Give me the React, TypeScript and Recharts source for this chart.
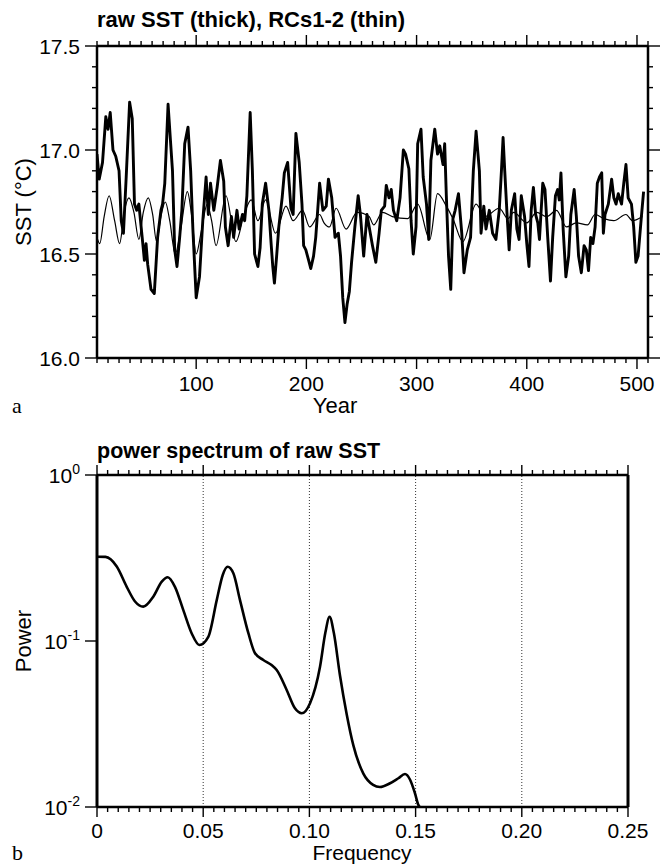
import { LineChart, Line, XAxis, YAxis, ReferenceLine } from 'recharts'

const FONT = '"Liberation Sans", Arial, Helvetica, sans-serif'
const SERIF = '"Liberation Serif", "Times New Roman", serif'

// panel a: raw SST (thick line)
const rawYears = [
  10, 12, 15, 18, 20, 22, 24.5, 27, 30, 32, 34, 36.5, 39.6, 42, 44, 46, 48, 51, 53, 54.5,
  56, 59, 62, 65, 68, 69.5, 71.5, 74.5, 76.6, 78.5, 80.5, 82.6, 85, 87, 89.6, 92.6, 95, 97, 100, 103,
  106, 109, 111, 113, 116, 119, 122, 125, 126.5, 129, 132, 134, 137, 139, 142, 144, 146, 149, 151, 153,
  156, 158, 160, 163, 166, 168, 169.5, 171, 173, 175, 178, 180, 183, 186, 188, 190.5, 193.5, 196, 197.5, 199.5,
  202, 204, 206.5, 208.5, 212, 215, 218, 220, 223, 226, 229, 231, 233, 235, 237, 239, 241, 244, 247, 249,
  252, 255, 257, 260, 263, 266, 268, 271, 272.5, 275, 277, 279, 282, 285, 288, 290, 293, 295, 297, 299.5,
  301, 304, 306, 309, 311, 313, 316.5, 319, 321, 324, 325.5, 327, 329, 331, 333, 335, 338, 341, 343, 346,
  349, 351.5, 354, 357, 358.5, 361, 363, 366, 369, 372, 375, 377, 378.5, 380, 382, 384, 386, 389, 391, 393,
  395, 398, 400, 402, 404, 406, 408, 410, 411.5, 414.5, 416.5, 419, 421.5, 423.5, 426, 428, 429.5, 431, 433, 435.5,
  438, 440, 443, 445, 447, 449.5, 452, 454, 456, 458, 460, 462, 464, 466, 468, 469.5, 471, 474, 477, 479,
  481, 483, 486, 488, 490, 492, 495, 497, 499, 501, 504, 506,
]
const rawValues = [
  16.98, 16.86, 16.94, 17.16, 17.1, 17.18, 17.0, 16.97, 16.9, 16.66, 16.6, 16.87, 17.23, 17.15, 16.74, 16.71, 16.74, 16.58, 16.47, 16.55,
  16.45, 16.33, 16.31, 16.58, 16.71, 16.74, 16.84, 17.22, 17.05, 16.9, 16.52, 16.44, 16.58, 16.71, 17.03, 17.11, 16.9, 16.62, 16.29, 16.39,
  16.66, 16.87, 16.69, 16.84, 16.71, 16.82, 16.95, 16.85, 16.63, 16.54, 16.68, 16.58, 16.71, 16.62, 16.69, 16.66, 16.78, 17.18, 16.9, 16.5,
  16.44, 16.53, 16.74, 16.84, 16.71, 16.55, 16.44, 16.36, 16.49, 16.63, 16.77, 16.89, 16.94, 16.72, 16.69, 17.08, 16.94, 16.74, 16.54, 16.52,
  16.47, 16.43, 16.49, 16.58, 16.84, 16.71, 16.73, 16.86, 16.77, 16.58, 16.6, 16.49, 16.29, 16.17, 16.26, 16.32, 16.46, 16.63, 16.78, 16.69,
  16.49, 16.69, 16.63, 16.54, 16.46, 16.6, 16.71, 16.73, 16.83, 16.77, 16.81, 16.71, 16.66, 16.77, 17.0, 16.98, 16.91, 16.66, 16.5, 16.63,
  17.03, 17.1, 16.87, 16.74, 16.57, 16.95, 17.1, 16.98, 17.02, 16.93, 17.03, 16.78, 16.49, 16.33, 16.67, 16.71, 16.79, 16.6, 16.41, 16.52,
  16.58, 16.9, 17.09, 16.9, 16.6, 16.73, 16.62, 16.71, 16.6, 16.57, 16.71, 16.9, 17.06, 16.9, 16.7, 16.52, 16.71, 16.79, 16.62, 16.57,
  16.78, 16.68, 16.55, 16.44, 16.71, 16.82, 16.69, 16.65, 16.57, 16.84, 16.81, 16.58, 16.37, 16.58, 16.78, 16.81, 16.76, 16.89, 16.62, 16.39,
  16.49, 16.69, 16.81, 16.68, 16.49, 16.41, 16.54, 16.52, 16.42, 16.58, 16.55, 16.63, 16.84, 16.87, 16.89, 16.6, 16.69, 16.74, 16.86, 16.77,
  16.74, 16.79, 16.74, 16.84, 16.93, 16.77, 16.74, 16.63, 16.46, 16.49, 16.68, 16.8,
]

// reconstructed components RC1-2 (thin line)
const rcYears = [
  10, 12.5, 16.5, 21, 26, 30.5, 35, 39, 43.5, 48, 52, 56.5, 60.5, 64, 68, 72, 76, 81, 86, 92,
  96, 100, 105, 110, 114, 118, 127, 136, 144, 150, 156, 163, 172, 181.5, 188, 196.5, 203, 212, 216, 221,
  227, 236, 246, 257, 261, 269, 278, 292, 301, 312, 319, 327, 333, 342, 354, 362, 375, 383, 388, 400,
  409, 418, 427, 436, 445, 455, 462, 470, 479, 490, 496, 505,
]
const rcValues = [
  16.58, 16.55, 16.68, 16.78, 16.66, 16.55, 16.71, 16.77, 16.7, 16.57, 16.7, 16.77, 16.69, 16.56, 16.68, 16.75, 16.66, 16.5, 16.62, 16.8,
  16.68, 16.5, 16.62, 16.74, 16.66, 16.54, 16.78, 16.56, 16.7, 16.76, 16.66, 16.76, 16.6, 16.73, 16.66, 16.71, 16.63, 16.69, 16.65, 16.63,
  16.72, 16.62, 16.7, 16.68, 16.64, 16.7, 16.68, 16.67, 16.74, 16.57, 16.79, 16.73, 16.67, 16.56, 16.74, 16.68, 16.72, 16.67, 16.7, 16.65,
  16.7, 16.68, 16.71, 16.63, 16.65, 16.64, 16.69, 16.67, 16.66, 16.69, 16.66, 16.68,
]

// panel b: power spectrum of raw SST
const freqs = [
  0, 0.004, 0.0093, 0.014, 0.0179, 0.0218, 0.0265, 0.0305, 0.0333, 0.0367, 0.0406, 0.0446, 0.0482, 0.0524, 0.0564, 0.0592,
  0.0615, 0.0642, 0.0673, 0.0713, 0.0744, 0.0783, 0.0822, 0.0846, 0.0893, 0.0932, 0.0964, 0.1003, 0.105, 0.1075, 0.1095,
  0.1115, 0.1144, 0.1176, 0.1207, 0.1254, 0.13, 0.1332, 0.138, 0.1419, 0.145, 0.1474, 0.1497, 0.1513, 0.152,
]
const powers = [
  0.322, 0.321, 0.281, 0.212, 0.173, 0.161, 0.185, 0.228, 0.242, 0.212, 0.154, 0.111, 0.0946, 0.106, 0.177, 0.25,
  0.28, 0.256, 0.177, 0.111, 0.0843, 0.0769, 0.0716, 0.0668, 0.0507, 0.0393, 0.0367, 0.0422, 0.07, 0.112, 0.14,
  0.112, 0.062, 0.036, 0.0235, 0.0159, 0.0136, 0.0132, 0.0139, 0.0149, 0.0158, 0.0146, 0.0121, 0.0103, 0.01,
]

const yearTicks = [
  10, 20, 30, 40, 50, 60, 70, 80, 90, 100, 110, 120, 130, 140, 150, 160, 170, 180, 190, 200,
  210, 220, 230, 240, 250, 260, 270, 280, 290, 300, 310, 320, 330, 340, 350, 360, 370, 380, 390, 400,
  410, 420, 430, 440, 450, 460, 470, 480, 490, 500, 510,
]
const sstTicks = [16.0, 16.1, 16.2, 16.3, 16.4, 16.5, 16.6, 16.7, 16.8, 16.9, 17.0, 17.1, 17.2, 17.3, 17.4, 17.5]
const sstLabels = ['16.0', '16.5', '17.0', '17.5']
const freqTicks = [
  0, 0.005, 0.01, 0.015, 0.02, 0.025, 0.03, 0.035, 0.04, 0.045, 0.05, 0.055, 0.06, 0.065, 0.07, 0.075, 0.08,
  0.085, 0.09, 0.095, 0.1, 0.105, 0.11, 0.115, 0.12, 0.125, 0.13, 0.135, 0.14, 0.145, 0.15, 0.155, 0.16,
  0.165, 0.17, 0.175, 0.18, 0.185, 0.19, 0.195, 0.2, 0.205, 0.21, 0.215, 0.22, 0.225, 0.23, 0.235, 0.24, 0.245, 0.25,
]
const freqLabels = ['0', '0.05', '0.10', '0.15', '0.20', '0.25']
const gridFreqs = [0.05, 0.1, 0.15, 0.2]
const powerTicks = [0.01, 0.1, 1]
const powerExps = ['-2', '-1', '0']

const rawSst = rawYears.map((year, i) => ({ year, sst: rawValues[i] }))
const rcSst = rcYears.map((year, i) => ({ year, sst: rcValues[i] }))
const spectrum = freqs.map((f, i) => ({ f, p: powers[i] }))

const AXIS = { stroke: '#000', strokeWidth: 2.5 }

const near = (a: number, b: number) => Math.abs(a - b) < 1e-6

const yearTick = (dir: number, showLabel: boolean) => (p: any) => {
  const v = p.payload.value
  const major = v % 100 === 0
  const len = major ? 11 : 5
  return (
    <g>
      <line x1={p.x} y1={p.y} x2={p.x} y2={p.y + dir * len} stroke="#000" strokeWidth={1.4} />
      {showLabel && major && (
        <text x={p.x} y={p.y + 33} textAnchor="middle" fontSize={21} fontFamily={FONT} fill="#000">
          {v}
        </text>
      )}
    </g>
  )
}

const sstTick = (dir: number, showLabel: boolean) => (p: any) => {
  const v = p.payload.value
  const idx = sstLabels.findIndex((s) => near(Number(s), v))
  const major = idx >= 0
  const len = major ? 12 : 5
  return (
    <g>
      <line x1={p.x} y1={p.y} x2={p.x + dir * len} y2={p.y} stroke="#000" strokeWidth={1.4} />
      {showLabel && major && (
        <text x={p.x - 17} y={p.y + 7.5} textAnchor="end" fontSize={21} fontFamily={FONT} fill="#000">
          {sstLabels[idx]}
        </text>
      )}
    </g>
  )
}

const freqTick = (dir: number, showLabel: boolean) => (p: any) => {
  const v = p.payload.value
  const idx = Math.round(v / 0.05)
  const major = near(v / 0.05, idx)
  const len = major ? 10 : 5
  return (
    <g>
      <line x1={p.x} y1={p.y} x2={p.x} y2={p.y + dir * len} stroke="#000" strokeWidth={1.4} />
      {showLabel && major && (
        <text x={p.x} y={p.y + 31} textAnchor="middle" fontSize={21} fontFamily={FONT} fill="#000">
          {freqLabels[idx]}
        </text>
      )}
    </g>
  )
}

const powerTick = (p: any) => {
  const idx = powerTicks.findIndex((t) => near(t, p.payload.value))
  return (
    <g>
      <line x1={p.x} y1={p.y} x2={p.x - 12} y2={p.y} stroke="#000" strokeWidth={1.4} />
      <text x={p.x - 17} y={p.y + 7.5} textAnchor="end" fontSize={21} fontFamily={FONT} fill="#000">
        <tspan>10</tspan>
        <tspan dy={-9} fontSize={14}>{powerExps[idx]}</tspan>
      </text>
    </g>
  )
}

function SstPanel() {
  return (
    <LineChart width={660} height={400} margin={{ top: 0, right: 0, bottom: 0, left: 0 }}>
      <XAxis
        xAxisId="b"
        dataKey="year"
        type="number"
        domain={[10, 510]}
        allowDataOverflow
        ticks={yearTicks}
        interval={0}
        tickSize={0}
        tickMargin={0}
        tickLine={false}
        axisLine={AXIS}
        tick={yearTick(1, true)}
        height={42}
      />
      <XAxis
        xAxisId="t"
        orientation="top"
        dataKey="year"
        type="number"
        domain={[10, 510]}
        allowDataOverflow
        ticks={yearTicks}
        interval={0}
        tickSize={0}
        tickMargin={0}
        tickLine={false}
        axisLine={AXIS}
        tick={yearTick(-1, false)}
        height={46}
      />
      <YAxis
        yAxisId="l"
        type="number"
        domain={[16, 17.5]}
        allowDataOverflow
        ticks={sstTicks}
        interval={0}
        tickSize={0}
        tickMargin={0}
        tickLine={false}
        axisLine={AXIS}
        tick={sstTick(-1, true)}
        width={97}
      />
      <YAxis
        yAxisId="r"
        orientation="right"
        type="number"
        domain={[16, 17.5]}
        allowDataOverflow
        ticks={sstTicks}
        interval={0}
        tickSize={0}
        tickMargin={0}
        tickLine={false}
        axisLine={AXIS}
        tick={sstTick(1, false)}
        width={12}
      />
      <Line
        xAxisId="b"
        yAxisId="l"
        data={rcSst}
        dataKey="sst"
        type="monotone"
        stroke="#000"
        strokeWidth={1.2}
        dot={false}
        isAnimationActive={false}
      />
      <Line
        xAxisId="b"
        yAxisId="l"
        data={rawSst}
        dataKey="sst"
        type="linear"
        stroke="#000"
        strokeWidth={2.9}
        strokeLinejoin="round"
        dot={false}
        isAnimationActive={false}
      />
    </LineChart>
  )
}

function SpectrumPanel() {
  return (
    <LineChart width={660} height={435} data={spectrum} margin={{ top: 0, right: 0, bottom: 0, left: 0 }}>
      <XAxis
        xAxisId="b"
        dataKey="f"
        type="number"
        domain={[0, 0.25]}
        allowDataOverflow
        ticks={freqTicks}
        interval={0}
        tickSize={0}
        tickMargin={0}
        tickLine={false}
        axisLine={AXIS}
        tick={freqTick(1, true)}
        height={58}
      />
      <XAxis
        xAxisId="t"
        orientation="top"
        dataKey="f"
        type="number"
        domain={[0, 0.25]}
        allowDataOverflow
        ticks={freqTicks}
        interval={0}
        tickSize={0}
        tickMargin={0}
        tickLine={false}
        axisLine={AXIS}
        tick={freqTick(-1, false)}
        height={45}
      />
      <YAxis
        yAxisId="l"
        scale="log"
        type="number"
        domain={[0.01, 1]}
        allowDataOverflow
        ticks={powerTicks}
        interval={0}
        tickSize={0}
        tickMargin={0}
        tickLine={false}
        axisLine={{ stroke: '#000', strokeWidth: 3 }}
        tick={powerTick}
        width={97}
      />
      <YAxis
        yAxisId="r"
        orientation="right"
        scale="log"
        type="number"
        domain={[0.01, 1]}
        allowDataOverflow
        tick={false}
        tickLine={false}
        axisLine={{ stroke: '#000', strokeWidth: 3 }}
        width={32}
      />
      {gridFreqs.map((g) => (
        <ReferenceLine
          key={g}
          xAxisId="b"
          yAxisId="l"
          x={g}
          stroke="#333"
          strokeWidth={1}
          strokeDasharray="1 2"
        />
      ))}
      <Line
        xAxisId="b"
        yAxisId="l"
        dataKey="p"
        type="monotone"
        stroke="#000"
        strokeWidth={2.6}
        dot={false}
        isAnimationActive={false}
      />
    </LineChart>
  )
}

export default function App() {
  return (
    <div style={{ position: 'absolute', left: 0, top: 0, width: 660, height: 865, background: '#fff' }}>
      <div style={{ position: 'absolute', left: 0, top: 0 }}>
        <SstPanel />
      </div>
      <div style={{ position: 'absolute', left: 0, top: 430 }}>
        <SpectrumPanel />
      </div>
      <svg
        width={660}
        height={865}
        style={{ position: 'absolute', left: 0, top: 0, pointerEvents: 'none' }}
        fontFamily={FONT}
      >
        <text x={97} y={27} fontSize={22} fontWeight="bold">
          raw SST (thick), RCs1-2 (thin)
        </text>
        <text x={31} y={202} fontSize={22} textAnchor="middle" transform="rotate(-90 31 202)">
          SST (°C)
        </text>
        <text x={335} y={413} fontSize={22} textAnchor="middle">
          Year
        </text>
        <text x={12} y={413} fontSize={22} fontFamily={SERIF}>
          a
        </text>
        <text x={97} y={458} fontSize={21.5} fontWeight="bold">
          power spectrum of raw SST
        </text>
        <text x={31} y={641} fontSize={22} textAnchor="middle" transform="rotate(-90 31 641)">
          Power
        </text>
        <text x={362} y={860} fontSize={21} textAnchor="middle">
          Frequency
        </text>
        <text x={12} y={860} fontSize={22} fontFamily={SERIF}>
          b
        </text>
      </svg>
    </div>
  )
}
